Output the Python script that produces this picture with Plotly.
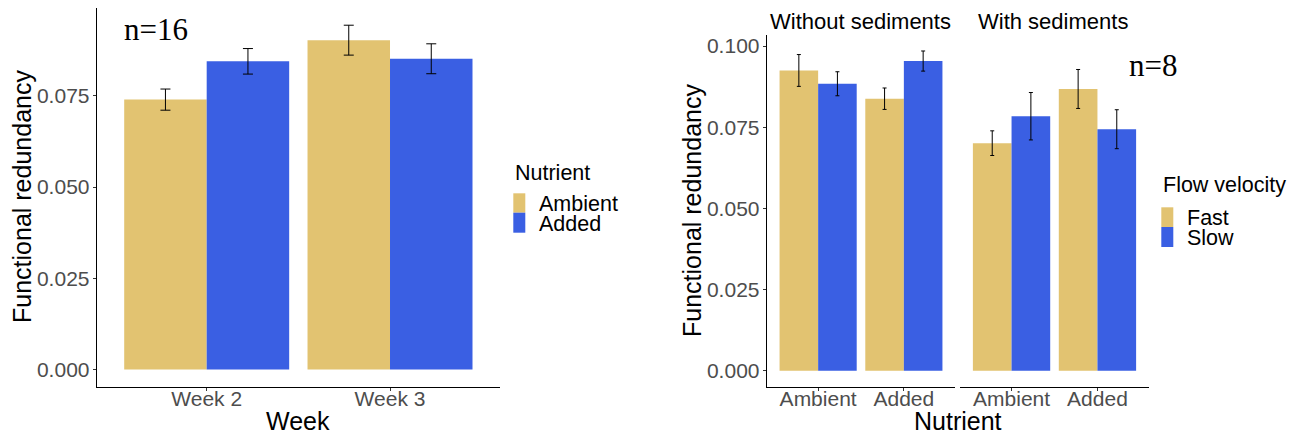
import plotly.graph_objects as go

# ---------------- data ----------------
weeks = ["Week 2", "Week 3"]
nutrient_levels = ["Ambient", "Added"]
left_ambient_mean = [0.0740, 0.0903]
left_ambient_se = [0.0029, 0.0041]
left_added_mean = [0.0845, 0.0852]
left_added_se = [0.0035, 0.0041]

facets = ["Without sediments", "With sediments"]
flow_levels = ["Fast", "Slow"]
# per facet, values for [Ambient, Added]
fast_mean = {"Without sediments": [0.0925, 0.0838], "With sediments": [0.0701, 0.0868]}
fast_se = {"Without sediments": [0.0049, 0.0033], "With sediments": [0.0038, 0.0060]}
slow_mean = {"Without sediments": [0.0884, 0.0954], "With sediments": [0.0784, 0.0744]}
slow_se = {"Without sediments": [0.0037, 0.0031], "With sediments": [0.0073, 0.0060]}

y_ticks = [0.0, 0.025, 0.05, 0.075, 0.1]
y_ticklabels = ["0.000", "0.025", "0.050", "0.075", "0.100"]

# ---------------- style ----------------
TAN = "#E2C371"
BLUE = "#3A5FE3"
W, H = 1303, 441
FONT = "Liberation Sans, Arial, sans-serif"
SERIF = "Liberation Serif, Times New Roman, serif"
TICKCOL = "#4D4D4D"


def px(x):
    return x / W


def py(y):
    return 1 - y / H


fig = go.Figure()

# left chart
fig.add_trace(go.Bar(x=weeks, y=left_ambient_mean, name="Ambient", marker_color=TAN,
                     marker_line_width=0,
                     error_y=dict(type="data", array=left_ambient_se, color="black",
                                  thickness=1, width=5),
                     xaxis="x", yaxis="y", showlegend=False))
fig.add_trace(go.Bar(x=weeks, y=left_added_mean, name="Added", marker_color=BLUE,
                     marker_line_width=0,
                     error_y=dict(type="data", array=left_added_se, color="black",
                                  thickness=1, width=5),
                     xaxis="x", yaxis="y", showlegend=False))

# right chart facets
for i, f in enumerate(facets):
    xa = "x2" if i == 0 else "x3"
    ya = "y2" if i == 0 else "y3"
    fig.add_trace(go.Bar(x=nutrient_levels, y=fast_mean[f], name="Fast", marker_color=TAN,
                         marker_line_width=0,
                         error_y=dict(type="data", array=fast_se[f], color="black",
                                      thickness=1, width=2),
                         xaxis=xa, yaxis=ya, showlegend=False))
    fig.add_trace(go.Bar(x=nutrient_levels, y=slow_mean[f], name="Slow", marker_color=BLUE,
                         marker_line_width=0,
                         error_y=dict(type="data", array=slow_se[f], color="black",
                                      thickness=1, width=2),
                         xaxis=xa, yaxis=ya, showlegend=False))

axis_common = dict(showgrid=False, zeroline=False, showline=True, linecolor="black",
                   linewidth=1, ticks="outside", ticklen=3, tickwidth=1,
                   tickcolor="#333333", tickfont=dict(family=FONT, size=21, color=TICKCOL))
xaxis_common = dict(axis_common, ticklabelstandoff=-10)
yaxis_common = dict(axis_common, ticklabelstandoff=-1)

left_max = max(m + s for m, s in zip(left_ambient_mean + left_added_mean,
                                     left_ambient_se + left_added_se))
right_vals = []
for f in facets:
    right_vals += [m + s for m, s in zip(fast_mean[f], fast_se[f])]
    right_vals += [m + s for m, s in zip(slow_mean[f], slow_se[f])]
right_max = max(right_vals)

fig.update_layout(
    width=W, height=H,
    margin=dict(l=0, r=0, t=0, b=0),
    paper_bgcolor="white", plot_bgcolor="white",
    barmode="group", bargap=0.1, bargroupgap=0,
    showlegend=False,
    xaxis=dict(domain=[px(96.7), px(500)], anchor="y", range=[-0.6, 1.6], **xaxis_common),
    yaxis=dict(domain=[py(386.7), py(8)], anchor="x",
               range=[-0.05 * left_max, 1.05 * left_max],
               tickvals=y_ticks[:4], ticktext=y_ticklabels[:4], **yaxis_common),
    xaxis2=dict(domain=[px(766.7), px(955.3)], anchor="y2", range=[-0.6, 1.6], **xaxis_common),
    yaxis2=dict(domain=[py(386.7), py(35)], anchor="x2",
                range=[-0.05 * right_max, 1.05 * right_max],
                tickvals=y_ticks, ticktext=y_ticklabels, **yaxis_common),
    xaxis3=dict(domain=[px(960), px(1149)], anchor="y3", range=[-0.6, 1.6], **xaxis_common),
    yaxis3=dict(domain=[py(386.7), py(35)], anchor="x3", matches="y2",
                showline=False, showticklabels=False, ticks="", showgrid=False,
                zeroline=False),
)

ann = []


def text(x, y, t, size, color="black", family=FONT, xanchor="center", textangle=0):
    ann.append(dict(x=px(x), y=py(y), xref="paper", yref="paper", text=t,
                    showarrow=False, xanchor=xanchor, yanchor="middle",
                    textangle=textangle, font=dict(family=family, size=size, color=color)))


# titles
text(22, 197, "Functional redundancy", 25, textangle=-90)
text(298.3, 421, "Week", 25)
text(692, 211, "Functional redundancy", 25, textangle=-90)
text(957.5, 421, "Nutrient", 25)
# facet strips
text(860, 21, facets[0], 22)
text(1053.3, 21, facets[1], 22)
# sample sizes
text(156, 29, "n=16", 31, family=SERIF)
text(1152.5, 65, "n=8", 31, family=SERIF)

# legends (manual)
shapes = []


def legend(x0, ytitle, ykeys, title, labels):
    text(x0, ytitle, title, 21.5, xanchor="left")
    cols = [TAN, BLUE]
    for k, lab in enumerate(labels):
        ya, yb = ykeys[k], ykeys[k + 1]
        shapes.append(dict(type="rect", xref="paper", yref="paper",
                           x0=px(x0), x1=px(x0 + 12), y0=py(yb), y1=py(ya),
                           fillcolor=cols[k], line=dict(width=0)))
        text(x0 + 24, (ya + yb) / 2 + 1, lab, 21.5, xanchor="left")


legend(513.3, 172.5, [193.3, 212.7, 232.7], "Nutrient", nutrient_levels)
legend(1161.3, 185, [207.3, 227, 247], "Flow velocity", flow_levels)

fig.update_layout(annotations=ann, shapes=shapes)

fig.write_html("out.html", post_script="document.body.style.margin='0';",
               config={"displayModeBar": False, "staticPlot": False})
